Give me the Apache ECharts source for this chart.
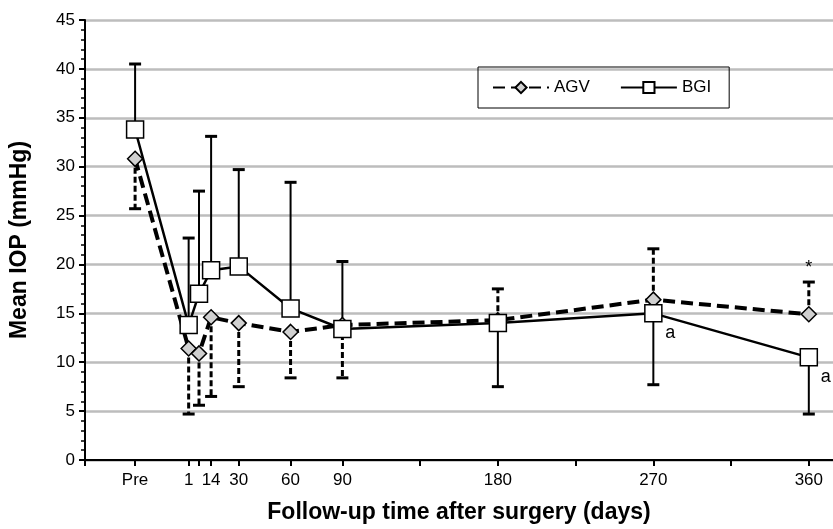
<!DOCTYPE html>
<html><head><meta charset="utf-8">
<script src="https://cdn.jsdelivr.net/npm/echarts@6/dist/echarts.min.js"></script>
<style>html,body{margin:0;padding:0;background:#fff}#c{width:833px;height:529px}</style>
</head><body><div id="c"></div>
<script>
const days = [-30, 1, 7, 14, 30, 60, 90, 180, 270, 360];
const agv = [30.8, 11.4, 10.9, 14.6, 14.0, 13.1, 13.8, 14.3, 16.4, 14.9];
const agvErr = [25.7, 4.7, 5.6, 6.5, 7.5, 8.4, 8.4, 17.5, 21.6, 18.2];
const bgi = [33.8, 13.8, 17.0, 19.4, 19.8, 15.5, 13.4, 14.0, 15.0, 10.5];
const bgiErr = [40.5, 22.7, 27.5, 33.1, 29.7, 28.4, 20.3, 7.5, 7.7, 4.7];
const tickDays = [-59, -30, 1, 7, 14, 30, 60, 90, 135, 180, 225, 270, 315, 360];
const labelDays = [-30, 1, 14, 30, 60, 90, 180, 270, 360];
const notes = [[270, 15.0, 'a'], [360, 10.5, 'a'], [360, 18.2, '*']];

const font = 'Liberation Sans, Arial, sans-serif';
const chart = echarts.init(document.getElementById('c'));

function errSeries(name, vals, errs, dashed) {
  return {
    type: 'custom', name: name + 'err', silent: true, z: 1,
    data: days.map((d, i) => [d, vals[i], errs[i]]),
    renderItem: (params, api) => {
      const p = api.coord([api.value(0), api.value(1)]);
      const q = api.coord([api.value(0), api.value(2)]);
      const st = {stroke: '#000', lineWidth: dashed ? 3 : 2, lineDash: dashed ? [6, 3] : null};
      return {type: 'group', children: [
        {type: 'line', shape: {x1: p[0], y1: p[1], x2: q[0], y2: q[1]}, style: st},
        {type: 'line', shape: {x1: q[0] - 6, y1: q[1], x2: q[0] + 6, y2: q[1]}, style: {stroke: '#000', lineWidth: 3}}
      ]};
    }
  };
}

chart.setOption({
  animation: false,
  grid: {left: 85, top: 20, right: 0, bottom: 67},
  legend: {
    top: 67, left: 478, itemGap: 30, itemWidth: 56, itemHeight: 14,
    borderColor: '#000', borderWidth: 1, padding: [12, 18, 12, 14],
    textStyle: {fontFamily: font, fontSize: 17, color: '#000'},
    data: ['AGV', 'BGI']
  },
  xAxis: {
    type: 'value', min: -59, max: 374,
    name: 'Follow-up time after surgery (days)', nameLocation: 'middle', nameGap: 41,
    nameTextStyle: {fontFamily: font, fontSize: 23, fontWeight: 'bold', color: '#000'},
    splitLine: {show: false},
    axisLine: {lineStyle: {color: '#000', width: 2}},
    axisTick: {customValues: tickDays, length: 6, lineStyle: {color: '#000', width: 2}},
    axisLabel: {customValues: labelDays, fontFamily: font, fontSize: 17, color: '#000', margin: 12,
      formatter: v => v === -30 ? 'Pre' : String(v)}
  },
  yAxis: {
    type: 'value', min: 0, max: 45, interval: 5,
    name: 'Mean IOP (mmHg)', nameLocation: 'middle', nameGap: 54,
    nameTextStyle: {fontFamily: font, fontSize: 23, fontWeight: 'bold', color: '#000'},
    axisLine: {show: true, onZero: false, lineStyle: {color: '#000', width: 2}},
    axisTick: {show: true, length: 6, lineStyle: {color: '#000', width: 2}},
    minorTick: {show: true, splitNumber: 5, length: 4, lineStyle: {color: '#000', width: 1.5}},
    splitLine: {lineStyle: {color: '#bdbdbd', width: 2.5}},
    axisLabel: {fontFamily: font, fontSize: 17, color: '#000', margin: 10}
  },
  series: [
    errSeries('AGV', agv, agvErr, true),
    errSeries('BGI', bgi, bgiErr, false),
    {
      name: 'AGV', type: 'line', z: 3, data: days.map((d, i) => [d, agv[i]]),
      symbol: 'diamond', symbolSize: 15,
      lineStyle: {color: '#000', width: 4, type: [12, 6]},
      itemStyle: {color: '#d0d0d0', borderColor: '#000', borderWidth: 1.5}
    },
    {
      name: 'BGI', type: 'line', z: 4, data: days.map((d, i) => [d, bgi[i]]),
      symbol: 'rect', symbolSize: 17,
      lineStyle: {color: '#000', width: 2.5},
      itemStyle: {color: '#fff', borderColor: '#000', borderWidth: 1.5}
    },
    {
      type: 'custom', silent: true, z: 5,
      data: notes,
      renderItem: (params, api) => {
        const n = notes[params.dataIndex];
        const p = api.coord([n[0], n[1]]);
        const star = n[2] === '*';
        return {type: 'text', x: star ? p[0] : p[0] + 12, y: star ? p[1] - 14 : p[1] + 20,
          style: {text: n[2], fill: '#000', font: '18px ' + font, align: star ? 'center' : 'left', verticalAlign: 'middle'}};
      }
    }
  ]
});
</script></body></html>
